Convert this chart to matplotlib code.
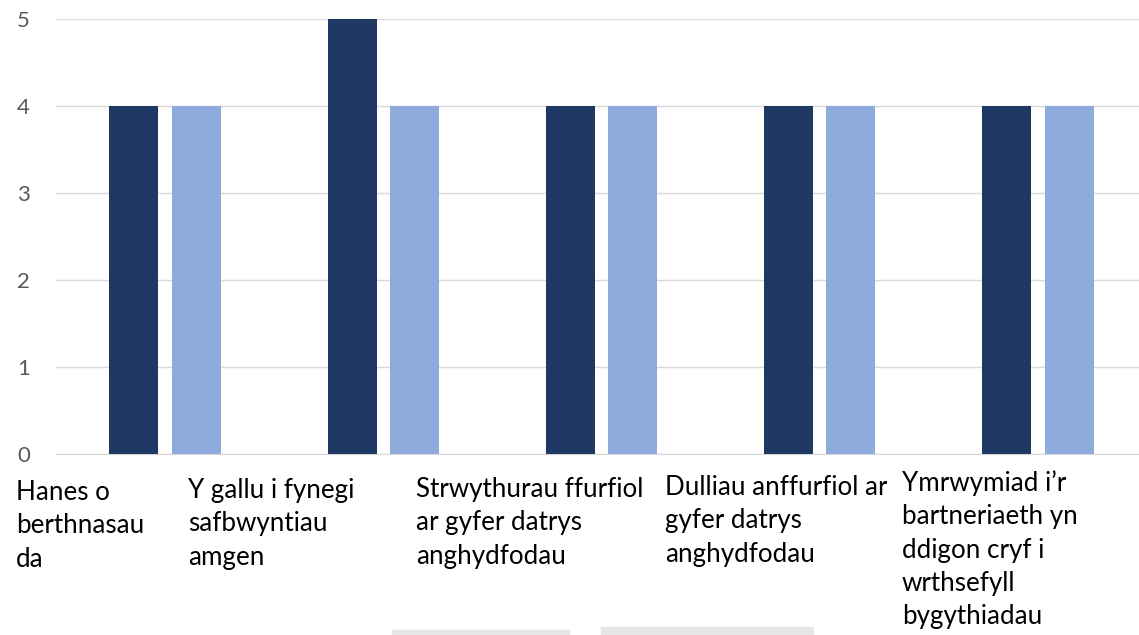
import numpy as np
import matplotlib
matplotlib.use("Agg")
import matplotlib.pyplot as plt
from matplotlib.patches import Rectangle
from matplotlib.transforms import Bbox

categories = [
    "Hanes o\nberthnasau\nda",
    "Y gallu i fynegi\nsafbwyntiau\namgen",
    "Strwythurau ffurfiol\nar gyfer datrys\nanghydfodau",
    "Dulliau anffurfiol ar\ngyfer datrys\nanghydfodau",
    "Ymrwymiad i\u2019r\nbartneriaeth yn\nddigon cryf i\nwrthsefyll\nbygythiadau",
]
series_a = [4, 5, 4, 4, 4]
series_b = [4, 4, 4, 4, 4]

plt.rcParams["font.family"] = ["Lato", "DejaVu Sans"]

W, H = 1139, 635
fig = plt.figure(figsize=(W / 100, H / 100), dpi=100)
# axes: x from px 56 (cat -0.5) spanning 5 * 218.2 px, y0 at px 454, y5 at px 19
ax = fig.add_axes([56 / W, 1 - 454 / H, 5 * 218.2 / W, (454 - 19) / H])

x = np.arange(len(categories))
bw = 0.225
off = 0.143
ax.bar(x - off, series_a, bw, color="#203864", zorder=3)
ax.bar(x + off, series_b, bw, color="#8FAADC", zorder=3)

ax.set_xlim(-0.5, len(categories) - 0.5)
ax.set_ylim(0, 5)
ax.set_yticks(range(0, 6))
ax.yaxis.grid(True, color="#d9d9d9", lw=1, zorder=0)
ax.tick_params(axis="y", length=0, labelsize=16, labelcolor="#595959", pad=28)
for lab in ax.get_yticklabels():
    lab.set_horizontalalignment("left")
ax.set_xticks([])
for s in ["top", "right", "left"]:
    ax.spines[s].set_visible(False)
ax.spines["bottom"].set_color("#d9d9d9")

# category labels, left aligned under each group
label_x = [16, 188, 416, 665, 902]
label_top = [480, 478, 477, 475, 470]
clip_right = [180, 405, 655, 887, W]
for lx, ly, cr, txt in zip(label_x, label_top, clip_right, categories):
    t = fig.text(lx / W, 1 - ly / H, txt, ha="left", va="top", fontsize=18.7,
                 color="black", linespacing=1.42)
    t.set_clip_box(Bbox([[0, 0], [cr, H]]))
    t.set_clip_on(True)

# clipped legend boxes at the bottom edge
fig.patches.append(Rectangle((392 / W, 0), (569 - 392) / W, 5 / H,
                             transform=fig.transFigure, color="#e6e6e6"))
fig.patches.append(Rectangle((601 / W, 0), (813 - 601) / W, 8 / H,
                             transform=fig.transFigure, color="#e6e6e6"))

fig.savefig("out.png", dpi=100)
